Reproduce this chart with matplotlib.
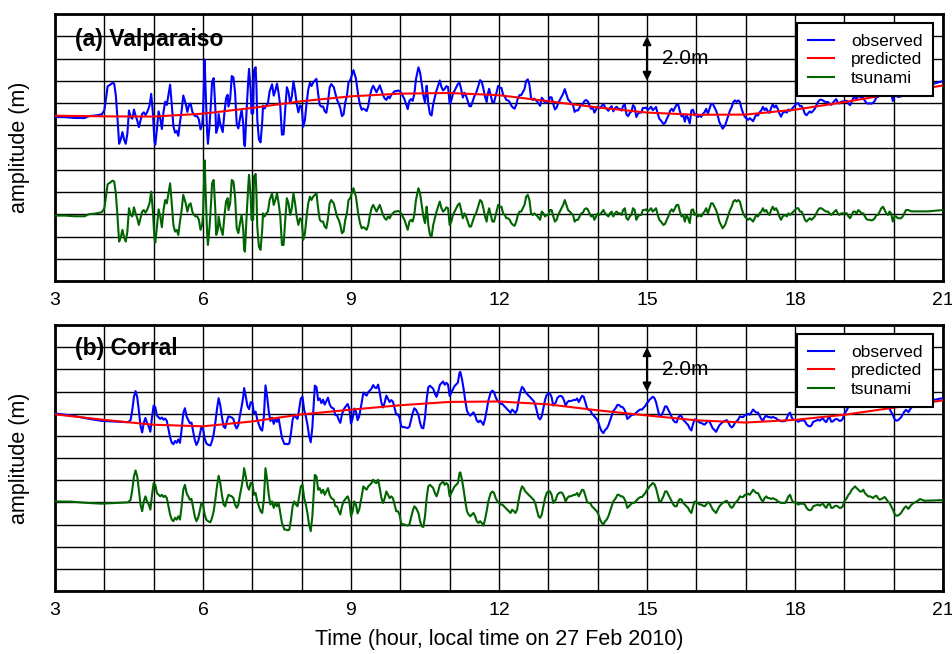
import numpy as np
import matplotlib
matplotlib.use("Agg")
import matplotlib.pyplot as plt

plt.rcParams['font.family'] = ['Liberation Sans', 'DejaVu Sans']

# ---------------- data ----------------
# predicted tide (m, plotted level) at each hour 3..21
pred_hours = [3, 4, 5, 6, 7, 8, 9, 10, 11, 12, 13, 14, 15, 16, 17, 18, 19, 20, 21]
pred_a = [7.43, 7.40, 7.39, 7.52, 7.78, 8.08, 8.30, 8.42, 8.45, 8.35, 8.08, 7.80,
          7.57, 7.47, 7.48, 7.70, 8.04, 8.42, 8.79]
pred_b = [7.97, 7.72, 7.50, 7.43, 7.65, 7.97, 8.18, 8.38, 8.53, 8.55, 8.42, 8.15,
          7.92, 7.70, 7.60, 7.72, 7.95, 8.27, 8.60]

tsunami_offset_a = 3.0
tsunami_offset_b = 4.0

# tsunami residual: (minutes after 03:00, metres)
tsunami_a = [
    (0, -0.06), (12, -0.06), (24, -0.09), (36, -0.09), (41, 0.00), (49, 0.03), (57, 0.09),
    (60, 0.27), (62, 0.79), (64, 1.35), (67, 1.42), (70, 1.51), (72, 1.47), (74, 0.94),
    (76, -0.10), (78, -1.23), (80, -1.03), (82, -0.70), (84, -1.03), (86, -1.23), (88, -0.78),
    (90, 0.27), (92, -0.03), (94, -0.10), (96, 0.31), (98, 0.04), (100, -0.18), (102, -0.48),
    (104, -0.18), (106, 0.12), (108, 0.19), (110, 0.07), (112, 0.19), (115, 0.49), (117, 1.02),
    (119, 0.19), (121, -1.12), (122, -1.27), (124, -0.55), (126, 0.22), (128, -0.10),
    (130, -0.58), (132, 0.19), (134, 0.64), (136, 0.49), (138, 0.94), (140, 1.39), (142, 0.49),
    (144, -0.48), (146, -0.78), (148, -0.70), (150, -0.93), (152, -0.33), (154, 0.19),
    (156, 0.87), (159, 0.49), (161, 0.12), (163, 0.42), (165, 0.49), (167, 0.12), (169, -0.03),
    (171, -0.10), (173, -0.10), (175, -0.25), (177, -0.70), (179, -0.48), (180, -0.03),
    (182, 2.42), (183, 1.24), (185, -0.85), (186, -1.38), (188, -0.55), (190, 0.64),
    (191, 1.39), (193, 1.54), (195, 0.19), (196, -0.93), (198, -0.70), (199, -0.10),
    (201, -0.55), (204, -0.93), (206, -0.10), (208, 0.57), (210, 0.72), (211, 0.19),
    (213, 0.49), (215, 1.54), (217, 1.47), (219, 0.79), (221, -0.63), (223, -0.85),
    (225, -0.40), (227, -0.03), (229, -0.70), (230, -1.60), (231, -1.68), (233, -0.10),
    (235, 1.24), (236, 1.77), (238, 0.79), (239, -0.25), (241, -0.25), (242, 1.69),
    (244, 1.81), (245, 0.94), (246, -0.55), (248, -1.46), (250, -1.60), (252, -0.70),
    (253, 0.04), (255, -0.10), (257, 0.04), (259, 0.12), (261, 0.64), (264, 0.94),
    (266, 0.42), (268, 0.64), (270, 0.94), (272, 0.49), (274, -0.10), (276, -1.38),
    (278, -1.38), (280, -0.25), (282, 0.72), (284, 0.49), (286, -0.03), (288, 0.27),
    (290, 0.94), (292, 0.49), (294, -0.10), (296, -0.48), (298, -0.18), (300, -0.25),
    (302, -1.15), (304, -0.85), (306, -0.10), (308, 0.49), (310, 0.79), (312, 0.64),
    (314, 0.79), (316, 0.87), (318, 0.94), (320, 0.27), (322, -0.25), (324, -0.33),
    (326, -0.33), (328, -0.55), (330, -0.63), (332, -0.18), (334, 0.49), (336, 0.64),
    (339, 0.49), (341, 0.19), (343, -0.10), (345, -0.25), (347, -0.48), (349, -0.85),
    (351, -0.78), (353, -0.25), (355, 0.04), (357, 0.64), (359, 0.72), (361, 0.94),
    (363, 1.17), (366, 0.79), (369, -0.03), (371, -0.40), (373, -0.63), (375, -0.58),
    (377, -0.63), (379, -0.70), (381, -0.48), (383, -0.03), (385, 0.27), (387, 0.42),
    (389, 0.27), (391, 0.12), (393, 0.27), (395, 0.42), (397, 0.19), (399, -0.03),
    (401, -0.18), (403, -0.25), (405, -0.10), (407, -0.18), (409, -0.03), (411, 0.04),
    (413, 0.12), (415, 0.12), (417, 0.15), (419, 0.12), (421, 0.04), (423, -0.10),
    (425, -0.25), (427, -0.48), (429, -0.70), (431, -0.33), (433, -0.25), (435, -0.33),
    (437, -0.03), (439, 0.64), (442, 1.17), (444, 0.94), (446, 0.42), (448, -0.10),
    (450, -0.40), (452, 0.34), (453, -0.03), (454, -0.48), (456, -0.93), (458, -1.00),
    (460, -0.48), (462, -0.18), (464, 0.12), (466, 0.34), (468, 0.57), (470, 0.27),
    (472, 0.12), (474, 0.19), (476, 0.31), (478, 0.27), (480, -0.48), (482, -0.33),
    (484, -0.03), (486, 0.12), (488, 0.27), (490, 0.42), (492, 0.49), (494, 0.19),
    (496, -0.18), (498, 0.04), (500, -0.10), (502, -0.33), (504, -0.55), (506, -0.55),
    (508, -0.33), (510, -0.10), (512, 0.04), (514, 0.27), (517, 0.64), (519, 0.57),
    (521, 0.27), (523, -0.10), (525, -0.33), (526, -0.03), (528, 0.27), (530, -0.03),
    (532, -0.33), (534, -0.33), (536, -0.03), (538, 0.27), (539, 0.42), (541, 0.34),
    (543, 0.34), (545, 0.04), (547, -0.03), (549, -0.18), (551, -0.18), (553, -0.25),
    (555, -0.40), (557, -0.48), (559, -0.52), (561, -0.33), (563, -0.03), (565, 0.12),
    (567, 0.12), (569, 0.27), (571, 0.42), (573, 0.79), (575, 0.87), (577, 0.64),
    (579, 0.04), (581, -0.03), (583, 0.04), (585, -0.03), (587, -0.10), (590, -0.25),
    (592, 0.12), (594, 0.04), (596, -0.10), (598, -0.03), (600, -0.03), (602, 0.19),
    (604, 0.19), (606, -0.10), (608, -0.33), (610, -0.25), (612, -0.03), (614, 0.12),
    (616, 0.27), (618, 0.42), (620, 0.64), (622, 0.42), (624, 0.19), (626, 0.12),
    (628, 0.04), (630, -0.03), (632, -0.33), (634, -0.25), (636, -0.25), (638, -0.10),
    (640, 0.04), (642, 0.07), (644, 0.22), (646, 0.27), (648, 0.22), (650, 0.04),
    (652, -0.10), (654, -0.03), (656, -0.25), (658, -0.10), (660, 0.04), (662, -0.03),
    (664, 0.04), (667, 0.19), (669, 0.04), (671, -0.03), (673, -0.10), (675, 0.04),
    (677, 0.12), (679, -0.10), (681, 0.04), (683, 0.12), (685, 0.04), (687, 0.04),
    (689, -0.03), (691, 0.19), (693, 0.27), (695, -0.18), (697, -0.25), (699, -0.10),
    (701, -0.03), (703, 0.27), (705, 0.19), (707, -0.25), (709, -0.10), (711, -0.03),
    (713, -0.03), (715, 0.19), (717, 0.19), (719, 0.22), (721, 0.12), (723, 0.19),
    (725, 0.27), (727, 0.12), (729, 0.19), (731, 0.27), (733, -0.03), (735, -0.25),
    (737, -0.33), (740, -0.48), (742, -0.43), (744, -0.25), (746, -0.10), (748, 0.12),
    (750, 0.22), (752, 0.12), (754, 0.27), (756, 0.42), (758, 0.42), (760, 0.12),
    (762, -0.10), (764, -0.03), (766, -0.33), (768, -0.03), (770, -0.18), (772, -0.40),
    (774, 0.19), (776, 0.22), (778, -0.03), (780, 0.04), (782, -0.10), (784, -0.03),
    (786, -0.10), (788, 0.04), (790, 0.12), (792, 0.27), (794, 0.04), (796, 0.27),
    (798, 0.49), (800, 0.49), (802, 0.34), (804, 0.19), (806, -0.03), (808, -0.33),
    (810, -0.48), (812, -0.63), (815, -0.48), (817, -0.25), (819, -0.03), (821, 0.19),
    (823, 0.34), (825, 0.57), (827, 0.64), (829, 0.57), (831, 0.64), (833, 0.57),
    (835, 0.27), (837, 0.04), (839, -0.10), (841, -0.18), (843, -0.25), (845, -0.18),
    (847, -0.25), (849, -0.33), (851, -0.18), (853, -0.03), (855, -0.10), (857, 0.04),
    (859, 0.12), (861, 0.27), (863, 0.12), (865, 0.19), (867, 0.04), (869, -0.03),
    (871, 0.19), (873, 0.34), (875, 0.19), (877, 0.27), (879, 0.12), (881, -0.10),
    (883, -0.25), (885, -0.10), (888, -0.03), (890, -0.10), (892, 0.04), (894, -0.03),
    (896, 0.04), (898, 0.12), (900, 0.19), (902, 0.27), (904, 0.27), (906, 0.12),
    (908, 0.12), (910, -0.03), (912, -0.25), (914, -0.33), (916, -0.25), (918, -0.18),
    (920, -0.25), (922, -0.18), (924, -0.10), (926, 0.04), (928, 0.19), (930, 0.27),
    (932, 0.27), (934, 0.22), (936, 0.16), (938, 0.12), (940, 0.12), (942, 0.04),
    (944, -0.03), (946, 0.04), (948, 0.12), (950, 0.19), (952, 0.04), (954, -0.03),
    (956, 0.04), (958, 0.04), (960, 0.04), (963, 0.04), (965, -0.10), (967, -0.18),
    (969, -0.03), (971, 0.12), (973, 0.12), (975, 0.04), (977, 0.19), (979, 0.12),
    (981, 0.04), (983, 0.04), (985, -0.10), (987, -0.22), (989, -0.25), (991, -0.25),
    (993, -0.28), (995, -0.25), (997, -0.18), (999, -0.03), (1001, -0.03), (1003, 0.12),
    (1005, 0.27), (1007, 0.34), (1009, 0.19), (1011, 0.04), (1013, -0.03), (1015, 0.12),
    (1017, 0.04), (1019, -0.33), (1021, -0.10), (1023, -0.10), (1025, -0.18),
    (1027, -0.18), (1029, -0.18), (1031, -0.10), (1033, 0.04), (1035, 0.19), (1038, 0.19),
    (1040, 0.15), (1042, 0.13), (1062, 0.13), (1080, 0.19),
]

tsunami_b = [
    (0, 0.04), (20, 0.03), (41, -0.03), (57, -0.06), (73, -0.03), (89, 0.00), (92, 0.12),
    (94, 0.57), (96, 1.17), (98, 1.44), (100, 1.17), (102, 0.57), (104, -0.10), (106, -0.40),
    (108, 0.04), (110, 0.27), (112, 0.04), (114, -0.10), (116, -0.33), (118, 0.34),
    (120, 0.87), (122, 0.79), (124, 0.42), (126, 0.34), (128, 0.27), (130, 0.34), (132, 0.24),
    (134, 0.30), (136, 0.19), (138, -0.18), (140, -0.55), (142, -0.78), (144, -0.85),
    (146, -0.70), (148, -0.78), (150, -0.63), (152, -0.78), (154, -0.18), (156, 0.57),
    (158, 0.79), (160, 0.42), (162, 0.27), (164, 0.12), (166, 0.15), (168, -0.25),
    (170, -0.63), (172, -0.85), (174, -0.70), (176, -0.40), (178, -0.03), (180, -0.10),
    (182, -0.55), (184, -0.78), (186, -0.85), (189, -0.90), (191, -0.70), (193, -0.40),
    (195, 0.12), (197, 0.72), (199, 1.20), (201, 0.87), (203, 0.34), (205, -0.10),
    (207, -0.18), (209, 0.12), (211, 0.34), (213, 0.30), (215, 0.27), (217, 0.19),
    (219, -0.10), (221, -0.25), (223, -0.10), (225, 0.34), (227, 0.72), (229, 1.17),
    (230, 1.54), (232, 1.17), (234, 0.72), (236, 0.57), (238, 0.87), (240, 0.87),
    (242, 0.34), (244, 0.42), (246, 0.04), (248, -0.18), (250, -0.40), (252, -0.48),
    (254, 0.12), (256, 1.54), (258, 1.02), (260, 0.34), (262, -0.10), (264, 0.04),
    (266, -0.25), (268, -0.03), (270, -0.18), (272, -0.03), (274, -0.48), (276, -0.93),
    (279, -1.23), (281, -1.23), (283, -1.26), (285, -1.23), (287, -0.78), (289, -0.18),
    (291, 0.04), (293, -0.10), (295, -0.18), (297, 0.27), (299, 0.72), (301, 0.79),
    (303, 0.19), (305, -0.10), (307, -0.48), (309, -1.00), (311, -1.30), (313, -0.63),
    (315, 0.64), (316, 1.24), (318, 1.17), (320, 0.57), (322, 0.64), (324, 0.42),
    (326, 0.57), (328, 0.34), (330, 0.49), (332, 0.64), (334, 0.34), (336, 0.19),
    (339, 0.12), (341, -0.18), (343, -0.18), (345, -0.40), (347, -0.55), (349, -0.18),
    (351, 0.04), (354, 0.19), (356, 0.27), (358, 0.04), (360, -0.63), (362, -0.40),
    (364, 0.04), (366, -0.10), (368, -0.50), (370, -0.33), (373, 0.27),
    (375, 0.72), (377, 0.64), (379, 0.57), (381, 0.72), (383, 0.79), (385, 0.87),
    (387, 1.02), (389, 0.90), (391, 0.87), (393, 1.02), (395, 0.64), (397, 0.19),
    (399, -0.03), (401, 0.19), (403, 0.49), (405, 0.34), (407, 0.19), (409, 0.27),
    (411, 0.19), (413, -0.10), (415, -0.40), (417, -0.40), (419, -0.55), (421, -0.93),
    (423, -1.00), (425, -1.00), (427, -1.03), (429, -1.05), (431, -1.00), (433, -0.70),
    (435, -0.40), (437, -0.18), (439, -0.25), (442, -0.48), (444, -0.85), (446, -1.08),
    (448, -1.11), (450, -0.63), (452, 0.19), (454, 0.72), (456, 0.79), (458, 0.72),
    (460, 0.64), (462, 0.42), (464, 0.27), (466, 0.49), (468, 0.79), (470, 0.87),
    (472, 0.94), (474, 0.79), (476, 0.87), (478, 0.79), (480, 0.27), (482, 0.42),
    (484, 0.57), (486, 0.72), (488, 0.79), (490, 0.87), (492, 1.32), (493, 1.35),
    (495, 1.02), (497, 0.57), (499, 0.04), (501, -0.40), (503, -0.55), (505, -0.63),
    (507, -0.55), (509, -0.48), (511, -0.63), (513, -0.85), (515, -0.93), (517, -0.85),
    (519, -0.93), (521, -1.05), (523, -0.78), (525, -0.40), (527, 0.04), (530, 0.42),
    (532, 0.49), (534, 0.42), (536, 0.19), (538, 0.04), (540, -0.03), (542, -0.10),
    (544, -0.10), (546, -0.18), (548, -0.25), (550, -0.33), (552, -0.40), (554, -0.48),
    (556, -0.33), (558, -0.40), (560, -0.48), (562, -0.33), (564, 0.12), (566, 0.49),
    (568, 0.72), (570, 0.64), (572, 0.49), (574, 0.42), (576, 0.34), (578, 0.27),
    (580, 0.19), (582, 0.12), (584, -0.03), (586, -0.33), (588, -0.63), (590, -0.70),
    (592, -0.55), (594, -0.18), (596, 0.19), (598, 0.42), (600, 0.49), (602, 0.49),
    (604, 0.34), (606, -0.03), (609, 0.12), (611, 0.34), (613, 0.42), (615, 0.45),
    (617, 0.42), (619, 0.27), (621, 0.04), (623, 0.19), (625, 0.27), (627, 0.27),
    (629, 0.30), (631, 0.34), (633, 0.34), (635, 0.42), (637, 0.27), (639, 0.42),
    (641, 0.57), (643, 0.54), (645, 0.30), (647, 0.04), (649, -0.03), (651, -0.03),
    (653, -0.18), (655, -0.25), (657, -0.33), (659, -0.40), (661, -0.55), (663, -0.78),
    (665, -0.93), (667, -1.00), (669, -0.85), (671, -0.78), (673, -0.63), (675, -0.40),
    (677, -0.18), (679, 0.04), (682, 0.19), (684, 0.34), (686, 0.34), (688, 0.27),
    (690, 0.27), (692, 0.19), (694, 0.04), (696, -0.25), (698, -0.18), (700, -0.10),
    (702, -0.03), (704, -0.03), (706, 0.04), (708, 0.12), (710, 0.19), (712, 0.24),
    (714, 0.24), (716, 0.34), (718, 0.42), (720, 0.57), (722, 0.64), (723, 0.72),
    (725, 0.79), (727, 0.87), (729, 0.82), (731, 0.64), (733, 0.34), (735, 0.04),
    (737, 0.04), (740, 0.27), (742, 0.49), (744, 0.49), (746, 0.34), (748, 0.19),
    (750, 0.04), (752, -0.10), (754, -0.18), (756, -0.18), (758, 0.04), (760, 0.15),
    (762, 0.12), (764, -0.03), (766, -0.10), (768, -0.18), (770, -0.25), (772, -0.40),
    (774, -0.48), (776, -0.18), (778, 0.04), (780, 0.00), (782, -0.03), (784, -0.10),
    (786, -0.10), (788, -0.15), (790, -0.18), (792, -0.10), (794, 0.00), (796, -0.03),
    (798, -0.18), (800, -0.33), (802, -0.40), (804, -0.48), (806, -0.33), (808, -0.18),
    (810, -0.10), (812, -0.03), (815, 0.04), (817, 0.07), (819, -0.03), (821, -0.18),
    (823, -0.25), (825, -0.18), (827, -0.03), (829, 0.04), (831, 0.12), (833, 0.27),
    (835, 0.24), (837, 0.24), (839, 0.34), (841, 0.34), (843, 0.39), (845, 0.34),
    (847, 0.45), (849, 0.57), (851, 0.49), (853, 0.42), (855, 0.42), (857, 0.27),
    (859, 0.12), (861, 0.04), (863, 0.19), (865, 0.27), (867, 0.19), (869, 0.19),
    (871, 0.15), (873, 0.19), (875, 0.15), (877, 0.12), (879, 0.04), (881, 0.02),
    (883, -0.03), (885, -0.03), (888, -0.03), (890, 0.09), (892, 0.27), (894, 0.34),
    (896, 0.12), (898, 0.00), (900, 0.00), (902, -0.03), (904, -0.10), (906, -0.06),
    (908, -0.06), (910, -0.06), (912, -0.10), (914, -0.25), (916, -0.33), (918, -0.36),
    (920, -0.33), (922, -0.18), (924, -0.15), (926, -0.13), (928, -0.10), (930, -0.15),
    (932, -0.10), (934, -0.06), (936, -0.18), (938, -0.25), (940, -0.10), (942, -0.03),
    (944, -0.25), (946, -0.25), (948, -0.18), (950, -0.15), (952, -0.18), (954, -0.25),
    (956, -0.25), (958, -0.18), (960, 0.04), (963, 0.19), (965, 0.34), (967, 0.42),
    (969, 0.57), (971, 0.64), (973, 0.72), (975, 0.64), (977, 0.57), (979, 0.49),
    (981, 0.49), (983, 0.57), (985, 0.42), (987, 0.34), (989, 0.27), (991, 0.27),
    (993, 0.24), (995, 0.19), (997, 0.27), (999, 0.30), (1001, 0.19), (1003, 0.12),
    (1005, 0.15), (1007, 0.19), (1009, 0.24), (1011, 0.15), (1013, 0.04), (1015, -0.03),
    (1017, -0.18), (1019, -0.33), (1021, -0.51), (1023, -0.60), (1025, -0.60),
    (1027, -0.55), (1029, -0.48), (1031, -0.36), (1033, -0.25), (1035, -0.18),
    (1038, -0.30), (1040, -0.18), (1042, -0.10), (1044, -0.03), (1046, 0.00), (1048, 0.04),
    (1050, 0.09), (1052, 0.15), (1054, 0.12), (1056, 0.09), (1058, 0.07), (1080, 0.10),
]

x_ticks = [3, 6, 9, 12, 15, 18, 21]
panel_titles = ["(a) Valparaiso", "(b) Corral"]
series_labels = ["observed", "predicted", "tsunami"]
colors = {"observed": "#0000ff", "predicted": "#ff0000", "tsunami": "#006400"}

# ---------------- figure ----------------
fig = plt.figure(figsize=(9.52, 6.54), dpi=100)
ax_a = fig.add_axes([55 / 952, 1 - 281 / 654, 888 / 952, 267 / 654])
ax_b = fig.add_axes([55 / 952, 1 - 591 / 654, 888 / 952, 266 / 654])


def draw_panel(ax, tsunami, pred, offset, title, title_y):
    mins, vals = np.array(tsunami, dtype=float).T
    hours = 3 + mins / 60.0
    pred_at = np.interp(hours, pred_hours, pred)
    observed = pred_at + vals
    ax.plot(hours, observed, color=colors["observed"], lw=1.5, label=series_labels[0], zorder=3)
    ax.plot(pred_hours, pred, color=colors["predicted"], lw=1.5, label=series_labels[1], zorder=4)
    ax.plot(hours, vals + offset, color=colors["tsunami"], lw=1.5, label=series_labels[2], zorder=3)

    ax.set_xlim(3, 21)
    ax.set_ylim(0, 12)
    ax.set_xticks(x_ticks)
    ax.set_xticks(np.arange(3, 22, 1), minor=True)
    ax.set_yticks(np.arange(0, 13, 1))
    ax.set_yticklabels([])
    ax.tick_params(which="both", length=0)
    ax.tick_params(axis="x", labelsize=14, pad=8)
    ax.grid(which="both", color="black", lw=1.0)
    ax.set_axisbelow(True)
    for s in ax.spines.values():
        s.set_linewidth(2.0)
    ax.set_ylabel("amplitude (m)", fontsize=15.5)
    ax.yaxis.set_label_coords(-0.028, 0.5)

    ax.text(0.0225, title_y, title, transform=ax.transAxes, fontsize=16.5,
            fontweight="bold", ha="left", va="center", zorder=6)

    ax.annotate("", xy=(15, 9), xytext=(15, 11),
                arrowprops=dict(arrowstyle="<|-|>", color="black", lw=1.5,
                                mutation_scale=12, shrinkA=0, shrinkB=0), zorder=6)
    ax.text(15.3, 10.0, "2.0m", fontsize=15, ha="left", va="center", zorder=6)

    leg = ax.legend(loc="upper right", bbox_to_anchor=(0.9887, 0.966), borderaxespad=0,
                    fontsize=12.5, frameon=True, fancybox=False, framealpha=1,
                    edgecolor="black", handlelength=1.5, handletextpad=1.0,
                    labelspacing=0.2, borderpad=0.6)
    leg.get_frame().set_linewidth(1.5)
    leg.set_zorder(7)


draw_panel(ax_a, tsunami_a, pred_a, tsunami_offset_a, panel_titles[0], 0.906)
draw_panel(ax_b, tsunami_b, pred_b, tsunami_offset_b, panel_titles[1], 0.91)

fig.text(499 / 952, 1 - 640 / 654, "Time (hour, local time on 27 Feb 2010)",
         fontsize=15.5, ha="center", va="center")

fig.savefig("out.png", dpi=100)
